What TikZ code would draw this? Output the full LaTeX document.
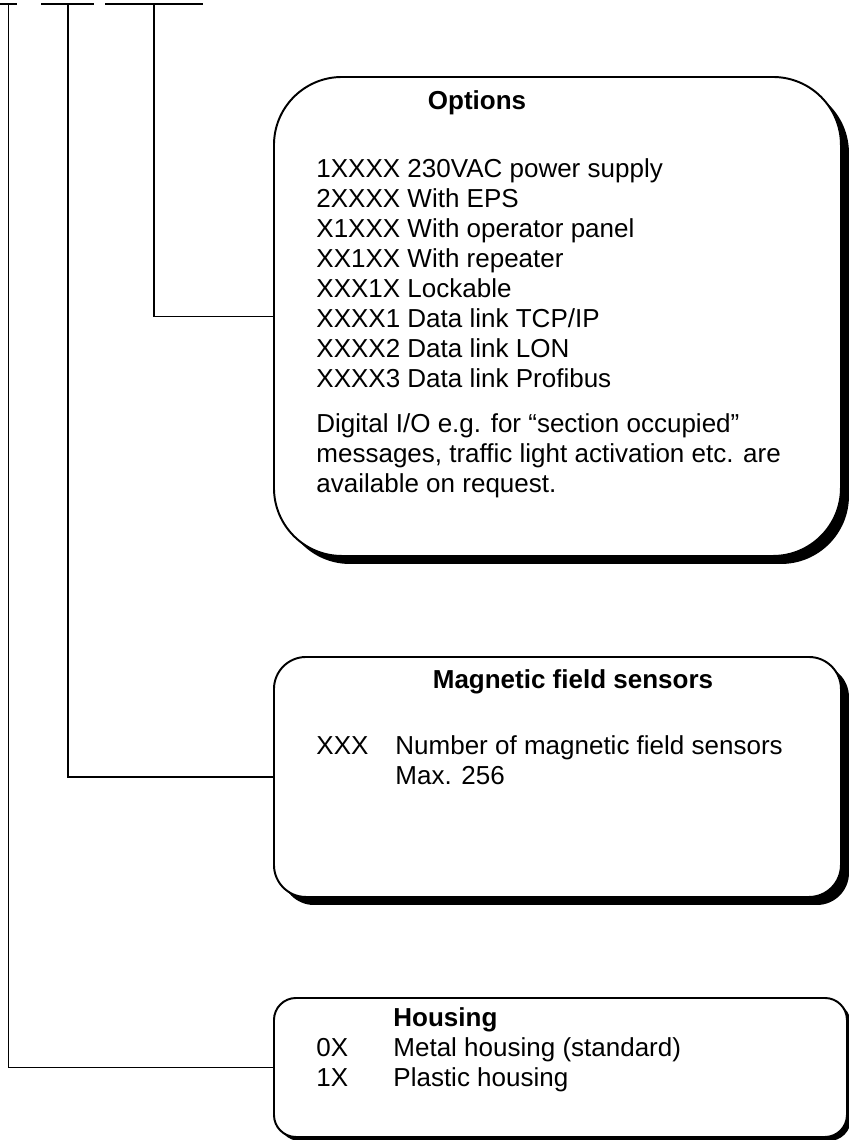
\documentclass[tikz,border=0pt]{standalone}
\usepackage{fontspec}
\setmainfont{Liberation Sans}
\usetikzlibrary{shadows,positioning}
\newlength{\pxu}
\setlength{\pxu}{0.4615pt}
\tikzset{
	infobox/.style={
			draw, fill=white, line width=0.9pt,
			anchor=north west, inner sep=0pt,
			drop shadow={shadow xshift=#1\pxu, shadow yshift=-#1\pxu, fill=black, opacity=1}
		},
	infobox/.default=8,
	lbl/.style={anchor=base west, inner sep=0pt, font=\fontsize{12}{13.8}\selectfont},
	ttl/.style={inner sep=0pt, font=\fontsize{12}{13.8}\selectfont\bfseries},
	wire/.style={line width=0.9pt}
}

\begin{document}
\begin{tikzpicture}[x=\pxu, y=-\pxu]
	\useasboundingbox (0,0) rectangle (849,1140);
	% the order code blanks
	\draw[wire] (0,4) -- (17,4) (41,4) -- (94,4) (105,4) -- (203,4);
	\coordinate (hous) at (8.5,4);
	\coordinate (mag) at (68,4);
	\coordinate (opt) at (154,4);
	% boxes
	\node[infobox, rounded corners=68\pxu, minimum width=567\pxu, minimum height=479\pxu] (optbox) at (273,76) {};
	\node[infobox, rounded corners=32\pxu, minimum width=567\pxu, minimum height=240\pxu] (magbox) at (273,656) {};
	\node[infobox=4, rounded corners=22\pxu, minimum width=573\pxu, minimum height=139\pxu] (housbox) at (273,997) {};
	\draw[wire] (opt) |- (optbox.west) (mag) |- (magbox.west) (hous) |- (housbox.west);
	% options
	\node[ttl, anchor=base] (optttl) at (477,109) {Options};
	\foreach \yy/\txt [count=\i] in {177/{1XXXX 230VAC power supply}, 207/{2XXXX With EPS},
			237/{X1XXX With operator panel}, 267/{XX1XX With repeater}, 297/{XXX1X Lockable},
			327/{XXXX1 Data link TCP/IP}, 357/{XXXX2 Data link LON}, 387/{XXXX3 Data link Profibus},
			432/{Digital I/O e.g. for “section occupied”},
			462/{messages, traffic light activation etc. are}, 492/{available on request.}}
		\node[lbl] (optl\i) at (316,\yy) {\txt};
	% magnetic field sensors
	\node[ttl, anchor=base] (magttl) at (573,688) {Magnetic field sensors};
	\node[lbl] (magcode) at (316,754) {XXX};
	\node[lbl] (magtxt) at (395,754) {Number of magnetic field sensors};
	\node[lbl] (magmax) at (395,784) {Max. 256};
	% housing
	\node[ttl, anchor=base west] (housttl) at (393,1026) {Housing};
	\node[lbl] (houscode0) at (316,1056) {0X};
	\node[lbl] (houstxt0) at (393,1056) {Metal housing (standard)};
	\node[lbl] (houscode1) at (316,1086) {1X};
	\node[lbl] (houstxt1) at (393,1086) {Plastic housing};
\end{tikzpicture}
\end{document}
